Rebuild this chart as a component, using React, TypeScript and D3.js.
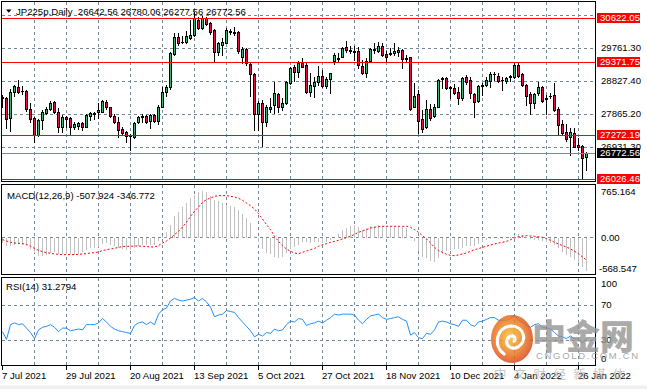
import React from 'react';
import * as d3 from 'd3';

// daily bars, 7 Jul 2021 .. 28 Jan 2022
const opens = [
  28374, 28326, 27753, 28518, 28661, 28546, 28537, 28021, 27763, 27275,
  27696, 27896, 28021, 28221, 27925, 27514, 27782, 27753, 27495, 27533,
  27610, 27514, 27829, 27887, 27925, 27944, 28212, 28068, 27820, 27657,
  27457, 27371, 27265, 27227, 27638, 27782, 27820, 27677, 27839, 27686,
  28087, 28518, 28642, 29588, 30075, 29932, 29942, 30056, 30133, 30572,
  30333, 30620, 30477, 30286, 29664, 29856, 29922, 30228, 30228, 30238,
  29502, 29731, 29311, 29014, 27868, 28183, 27657, 28021, 28135, 28441,
  28087, 28183, 28776, 29215, 29072, 29330, 29282, 28518, 28680, 28804,
  28967, 28680, 28871, 29397, 29464, 29521, 29789, 29683, 29674, 29683,
  29253, 29043, 29406, 29703, 29693, 29827, 29588, 29607, 29636, 29655,
  29712, 29473, 29502, 28087, 28451, 27724, 27495, 28011, 27829, 28087,
  28871, 28900, 28642, 28613, 28518, 28326, 28948, 28852, 28451, 28259,
  28680, 28709, 28833, 29014, 28967, 28862, 28823, 28948, 28948, 29282,
  29014, 28709, 28451, 28202, 28470, 28642, 28336, 28384, 28422, 28021,
  27581, 27352, 27227, 27323, 26988, 26969, 26642.56,
];
const highs = [
  28422, 28374, 28584, 28709, 28852, 28680, 28565, 28183, 27801, 27724,
  27992, 28087, 28259, 28259, 28040, 27849, 27820, 27782, 27657, 27648,
  27657, 27877, 27935, 27944, 28183, 28279, 28279, 28087, 27877, 27782,
  27495, 27399, 27304, 27638, 27820, 27887, 27839, 27877, 27877, 28135,
  28661, 28709, 29664, 30209, 30190, 30114, 30247, 30572, 30811, 30649,
  30687, 30668, 30525, 30305, 29951, 30047, 30333, 30305, 30381, 30266,
  29789, 29760, 29349, 29043, 28259, 28279, 28135, 28326, 28804, 28489,
  28326, 28833, 29234, 29282, 29397, 29473, 29330, 29043, 28948, 29253,
  29139, 28928, 29062, 29636, 29617, 29789, 29980, 29827, 29827, 29808,
  29425, 29473, 29779, 29903, 29951, 29922, 29693, 29760, 29903, 29789,
  29731, 29569, 29521, 28756, 28565, 27992, 28279, 28164, 28164, 28881,
  28948, 28928, 28680, 28737, 28661, 28948, 28995, 28948, 28470, 28709,
  28756, 28948, 29091, 29091, 29043, 28948, 28948, 28995, 29349, 29378,
  29062, 28737, 28518, 28489, 28804, 28680, 28422, 28470, 28756, 28068,
  27705, 27591, 27466, 27466, 27180, 26988, 26780.06,
];
const lows = [
  28068, 27466, 27399, 28393, 28470, 28451, 27963, 27657, 27065, 27256,
  27438, 27877, 27992, 27896, 27352, 27371, 27514, 27275, 27447, 27438,
  27418, 27495, 27705, 27724, 27753, 27935, 28021, 27801, 27629, 27208,
  27275, 27084, 26845, 27199, 27610, 27657, 27629, 27466, 27657, 27581,
  28068, 28403, 28604, 29569, 29856, 29903, 29922, 30018, 30114, 30305,
  30305, 30429, 30171, 29406, 29569, 29569, 29903, 30171, 30142, 29617,
  29330, 29282, 28403, 27418, 27418, 26960, 27533, 27944, 27896, 27944,
  27992, 28164, 28737, 28833, 28948, 29215, 28470, 28403, 28374, 28709,
  28642, 28613, 28470, 29311, 29378, 29502, 29664, 29636, 29425, 29187,
  29024, 28948, 29397, 29636, 29664, 29540, 29406, 29569, 29569, 29540,
  29187, 29406, 27992, 28068, 27342, 27371, 27466, 27705, 27801, 28068,
  28613, 28584, 28326, 28451, 28164, 28279, 28737, 28326, 27782, 28231,
  28422, 28680, 28642, 28852, 28804, 28565, 28756, 28833, 28919, 28948,
  28680, 28135, 27877, 28040, 28422, 28231, 27877, 28326, 27973, 27304,
  27275, 27113, 26702, 26922, 26845, 26033, 26277.56,
];
const closes = [
  28336, 27724, 28518, 28680, 28518, 28527, 28021, 27724, 27275, 27705,
  27925, 28030, 28202, 27925, 27514, 27782, 27734, 27495, 27591, 27610,
  27514, 27839, 27896, 27906, 27992, 28250, 28068, 27820, 27657, 27418,
  27342, 27247, 27247, 27610, 27782, 27820, 27657, 27839, 27686, 28087,
  28518, 28642, 29617, 30075, 29922, 29951, 30114, 30152, 30620, 30333,
  30620, 30458, 30219, 29664, 29922, 29951, 30286, 30247, 30190, 29693,
  29731, 29330, 29014, 27868, 28183, 27657, 28087, 28068, 28470, 28087,
  28202, 28804, 29187, 29072, 29349, 29234, 28518, 28709, 28804, 28967,
  28680, 28881, 29043, 29569, 29492, 29760, 29712, 29703, 29655, 29282,
  29043, 29406, 29750, 29731, 29827, 29569, 29511, 29626, 29693, 29703,
  29445, 29454, 28011, 28393, 27686, 27438, 28011, 27753, 28087, 28852,
  28900, 28613, 28613, 28489, 28326, 28900, 28804, 28470, 28231, 28680,
  28709, 28852, 29024, 29034, 28823, 28842, 28900, 28957, 29282, 28967,
  28709, 28393, 28183, 28451, 28642, 28259, 28307, 28403, 27992, 27562,
  27342, 27151, 27371, 26941, 26922, 26606, 26772.56,
];

const macdMain = [
  -87, -138, -128, -113, -102, -113, -138, -179, -240, -281,
  -281, -265, -240, -230, -250, -260, -250, -260, -265, -250,
  -230, -189, -169, -163, -148, -97, -87, -113, -138, -163,
  -179, -189, -189, -163, -138, -123, -123, -118, -118, -62,
  15, 76, 193, 320, 381, 463, 524, 600, 651, 687,
  702, 692, 636, 575, 550, 524, 499, 483, 463, 422,
  361, 295, 218, 25, -77, -179, -240, -260, -301, -311,
  -301, -240, -179, -148, -113, -77, -77, -87, -77, -67,
  -87, -77, -46, -11, 56, 106, 142, 178, 193, 157,
  117, 142, 168, 178, 183, 178, 168, 168, 168, 168,
  157, 142, 15, -62, -214, -301, -316, -367, -372, -316,
  -250, -214, -189, -179, -179, -163, -138, -128, -128, -97,
  -77, -46, -26, -16, -21, -26, -11, 5, 40, 56,
  40, 5, -26, -36, -46, -62, -77, -87, -118, -163,
  -230, -265, -301, -352, -393, -454, -507.924,
];
const macdSignal = [
  -36, -57, -77, -87, -92, -97, -107, -138, -169, -199,
  -220, -235, -245, -255, -260, -265, -265, -265, -265, -260,
  -255, -250, -240, -235, -225, -204, -189, -179, -169, -153,
  -143, -138, -138, -133, -133, -138, -143, -148, -148, -128,
  -87, -57, -11, 40, 91, 157, 229, 320, 397, 463,
  534, 575, 600, 626, 636, 636, 636, 626, 616, 595,
  565, 524, 483, 432, 361, 280, 193, 117, 15, -62,
  -128, -179, -214, -240, -250, -230, -209, -189, -169, -138,
  -113, -97, -77, -62, -46, -26, -6, 15, 45, 76,
  96, 117, 142, 152, 163, 168, 168, 168, 168, 168,
  168, 168, 152, 117, 76, 25, -26, -87, -153, -204,
  -230, -260, -276, -281, -270, -255, -240, -214, -189, -174,
  -153, -138, -118, -102, -87, -77, -62, -36, -11, 10,
  20, 25, 20, 15, 10, -1, -21, -46, -77, -102,
  -128, -148, -179, -214, -250, -301, -346.772,
];
const rsiValues = [
  39, 30, 47, 49, 47, 48, 43, 38, 31, 41,
  44, 45, 47, 44, 39, 43, 43, 40, 41, 42,
  41, 47, 47, 47, 49, 54, 50, 45, 42, 40,
  39, 38, 37, 46, 49, 50, 47, 50, 47, 59,
  64, 66, 74, 77, 75, 74, 75, 76, 78, 74,
  77, 73, 67, 56, 58, 59, 63, 62, 61, 55,
  50, 45, 40, 33, 36, 34, 38, 37, 42, 40,
  41, 47, 51, 50, 54, 53, 46, 48, 49, 51,
  49, 52, 55, 59, 58, 59, 59, 59, 58, 52,
  48, 53, 57, 58, 59, 55, 53, 54, 55, 56,
  53, 51, 35, 38, 32, 31, 37, 36, 41, 50,
  51, 50, 48, 47, 45, 52, 52, 47, 45, 50,
  51, 53, 55, 55, 52, 52, 52, 54, 58, 52,
  50, 46, 44, 47, 48, 44, 43, 42, 38, 34,
  33, 31, 34, 31, 30, 26, 31.2794,
];

const dateLabels = [
  '7 Jul 2021', '29 Jul 2021', '20 Aug 2021', '13 Sep 2021', '5 Oct 2021',
  '27 Oct 2021', '18 Nov 2021', '10 Dec 2021', '4 Jan 2022', '26 Jan 2022',
];
const priceGrid = [30723.5, 29761.3, 28827.4, 27865.2, 26931.3];
const priceLabels = [29761.3, 28827.4, 27865.2, 26931.3];
const levelLines = [30622.05, 29371.75, 27272.19, 26026.46];
const lastPrice = 26772.56;
const macdLabels = [765.164, 0, -568.547];
const rsiGrid = [70, 30];
const rsiLabels = [100, 70, 30, 0];

const W = 647;
const H = 389;
const FONT = "'Liberation Sans', Arial, sans-serif";
const FS = 9.6;
const GRID = '#778899';
const BULL = '#3cb371';
const BEAR = '#dc143c';

const left = 1.5;
const right = 595.5;
const mainBox = { top: 1.5, bottom: 181.5 };
const macdBox = { top: 184.5, bottom: 274.5 };
const rsiBox = { top: 277.5, bottom: 365.5 };

const xBar = d3.scaleLinear().domain([0, closes.length - 1]).range([2, 586]);
const yPrice = d3.scaleLinear().domain([26931.3, 29761.3]).range([147, 48.3]);
const yMacd = d3.scaleLinear().domain([-568.547, 765.164]).range([274.5, 187.2]);
const yRsi = d3.scaleLinear().domain([0, 100]).range([365.75, 278.25]);

const px = (v: number) => Math.round(v) + 0.5;
const gridBars = d3.range(8, closes.length, 8);
const labelBars = d3.range(0, closes.length, 16);

const signalLine = d3.line<number>().x((_, i) => xBar(i) + 0.5).y((v) => yMacd(v));
const rsiLine = d3.line<number>().x((_, i) => xBar(i) + 0.5).y((v) => yRsi(v));

function VGrid({ top, bottom }: { top: number; bottom: number }) {
  return (
    <g stroke={GRID} strokeDasharray="3,3" shapeRendering="crispEdges">
      {gridBars.map((b) => (
        <line key={b} x1={px(xBar(b))} x2={px(xBar(b))} y1={top} y2={bottom} />
      ))}
    </g>
  );
}

function Candles() {
  return (
    <g clipPath="url(#clipMain)" shapeRendering="crispEdges">
      {closes.map((c, i) => {
        const o = opens[i];
        const cx = Math.round(xBar(i));
        const yH = Math.round(yPrice(highs[i]));
        const yL = Math.round(yPrice(lows[i]));
        const yO = Math.round(yPrice(o));
        const yC = Math.round(yPrice(c));
        const top = Math.min(yO, yC);
        const h = Math.abs(yO - yC);
        return (
          <g key={i}>
            <line x1={cx + 0.5} x2={cx + 0.5} y1={yH} y2={yL + 1} stroke="#000" />
            {h < 1 ? (
              <line x1={cx - 1} x2={cx + 2} y1={top + 0.5} y2={top + 0.5} stroke="#000" />
            ) : (
              <rect x={cx - 0.5} y={top + 0.5} width={2} height={h}
                fill={c >= o ? BULL : BEAR} stroke="#000" />
            )}
          </g>
        );
      })}
    </g>
  );
}

function Tag({ y, text, bg }: { y: number; text: string; bg: string }) {
  const yy = Math.round(y);
  return (
    <g>
      <rect x={597} y={yy - 5} width={43} height={10} fill={bg} />
      <text x={600} y={yy} dy="0.35em" fill="#fff">{text}</text>
    </g>
  );
}

function Watermark() {
  return (
    <g>
      <defs>
        <radialGradient id="wmGrad" cx="45%" cy="45%" r="60%">
          <stop offset="0%" stopColor="#f8c23a" />
          <stop offset="60%" stopColor="#ec7a24" />
          <stop offset="100%" stopColor="#d8401c" />
        </radialGradient>
      </defs>
      <g opacity={0.85}>
        <ellipse cx={512} cy={339} rx={21} ry={24} fill="url(#wmGrad)" />
        <path d="M504 354 C493 346 496 327 511 326 C524 326 528 341 518 347 C510 351 503 343 509 337 C513 334 517 338 514 341"
          fill="none" stroke="#fff" strokeWidth={3.2} strokeLinecap="round" />
      </g>
      <text x={532} y={349} fontFamily="'Noto Sans CJK SC', sans-serif" fontWeight={900}
        fontSize={34} fill="#959595" opacity={0.8}>中金网</text>
      <text x={536} y={358.5} fontSize={9.5} letterSpacing={1.7} fill="#9a9a9a" opacity={0.85}>CNGOLD.COM.CN</text>
      <text x={494} y={379} fontFamily="'Noto Sans CJK SC', sans-serif" fontSize={12.5}
        letterSpacing={7.3} fill="#b5b5b5" opacity={0.75}>中文财经新媒体</text>
    </g>
  );
}

export default function App() {
  const zeroY = px(yMacd(0));
  return (
    <svg width={W} height={H} viewBox={`0 0 ${W} ${H}`}
      style={{ position: 'absolute', left: 0, top: 0, display: 'block', background: '#fff' }}
      fontFamily={FONT} fontSize={FS}>
      <defs>
        <clipPath id="clipMain"><rect x={2} y={2} width={593} height={179} /></clipPath>
        <clipPath id="clipMacd"><rect x={2} y={185} width={593} height={89} /></clipPath>
        <clipPath id="clipRsi"><rect x={2} y={278} width={593} height={87} /></clipPath>
      </defs>
      <rect x={0} y={385.5} width={W} height={4} fill="#f0f0f0" />

      {/* main panel */}
      <VGrid top={mainBox.top} bottom={mainBox.bottom} />
      <g stroke={GRID} strokeDasharray="3,3" shapeRendering="crispEdges">
        {priceGrid.map((p) => (
          <line key={p} x1={left} x2={right} y1={px(yPrice(p))} y2={px(yPrice(p))} />
        ))}
      </g>
      <Candles />
      <g shapeRendering="crispEdges">
        {levelLines.map((p) => (
          <line key={p} x1={left} x2={right} y1={px(yPrice(p))} y2={px(yPrice(p))} stroke="#ff0000" />
        ))}
        <line x1={left} x2={right} y1={px(yPrice(lastPrice))} y2={px(yPrice(lastPrice))} stroke={GRID} />
      </g>
      <path d="M6 9.5 L11.5 9.5 L8.75 12.8 Z" fill="#000" />
      <text x={16} y={14.5} style={{ whiteSpace: 'pre' }}>
        {'JP225p,Daily  26642.56 26780.06 26277.56 26772.56'}
      </text>

      {/* macd panel */}
      <VGrid top={macdBox.top} bottom={macdBox.bottom} />
      <line x1={left} x2={right} y1={zeroY} y2={zeroY} stroke={GRID} strokeDasharray="3,3" shapeRendering="crispEdges" />
      <g clipPath="url(#clipMacd)" stroke="#c0c0c0" shapeRendering="crispEdges">
        {macdMain.map((v, i) => (
          <line key={i} x1={px(xBar(i))} x2={px(xBar(i))} y1={zeroY} y2={Math.round(yMacd(v))} />
        ))}
      </g>
      <path d={signalLine(macdSignal) || ''} fill="none" stroke="#ff0000" strokeDasharray="2,2" clipPath="url(#clipMacd)" />
      <text x={7} y={198.5}>MACD(12,26,9) -507.924 -346.772</text>

      {/* rsi panel */}
      <VGrid top={rsiBox.top} bottom={rsiBox.bottom} />
      <g stroke={GRID} strokeDasharray="3,3" shapeRendering="crispEdges">
        {rsiGrid.map((v) => (
          <line key={v} x1={left} x2={right} y1={px(yRsi(v))} y2={px(yRsi(v))} />
        ))}
      </g>
      <path d={rsiLine(rsiValues) || ''} fill="none" stroke="#1e90ff" clipPath="url(#clipRsi)" />
      <text x={6} y={290}>RSI(14) 31.2794</text>

      {/* frames */}
      <g fill="none" stroke="#000" shapeRendering="crispEdges">
        <rect x={left} y={mainBox.top} width={right - left} height={mainBox.bottom - mainBox.top} />
        <rect x={left} y={macdBox.top} width={right - left} height={macdBox.bottom - macdBox.top} />
        <rect x={left} y={rsiBox.top} width={right - left} height={rsiBox.bottom - rsiBox.top} />
      </g>

      {/* right axis */}
      <g fill="#000">
        {priceLabels.map((p) => (
          <text key={p} x={601} y={Math.round(yPrice(p))} dy="0.35em">{p.toFixed(2)}</text>
        ))}
        {macdLabels.map((v) => {
          const y = Math.min(Math.max(yMacd(v), macdBox.top + 7), macdBox.bottom - 6);
          return <text key={v} x={v < 0 ? 599 : 601} y={y} dy="0.35em">{v === 0 ? '0.00' : v.toFixed(3)}</text>;
        })}
        {rsiLabels.map((v) => {
          const y = Math.min(Math.max(yRsi(v), rsiBox.top + 6.5), rsiBox.bottom - 6.5);
          return <text key={v} x={601} y={y} dy="0.35em">{v}</text>;
        })}
      </g>
      {levelLines.map((p) => (
        <Tag key={p} y={yPrice(p)} text={p.toFixed(2)} bg="#ff0000" />
      ))}
      <Tag y={yPrice(lastPrice)} text={lastPrice.toFixed(2)} bg="#000" />

      {/* time axis */}
      <g stroke="#000" shapeRendering="crispEdges">
        {labelBars.map((b) => (
          <line key={b} x1={px(xBar(b))} x2={px(xBar(b))} y1={rsiBox.bottom} y2={rsiBox.bottom + 4} />
        ))}
      </g>
      {labelBars.map((b, k) => (
        <text key={b} x={Math.max(xBar(b), 1)} y={378.5}>{dateLabels[k]}</text>
      ))}

      <Watermark />
    </svg>
  );
}
